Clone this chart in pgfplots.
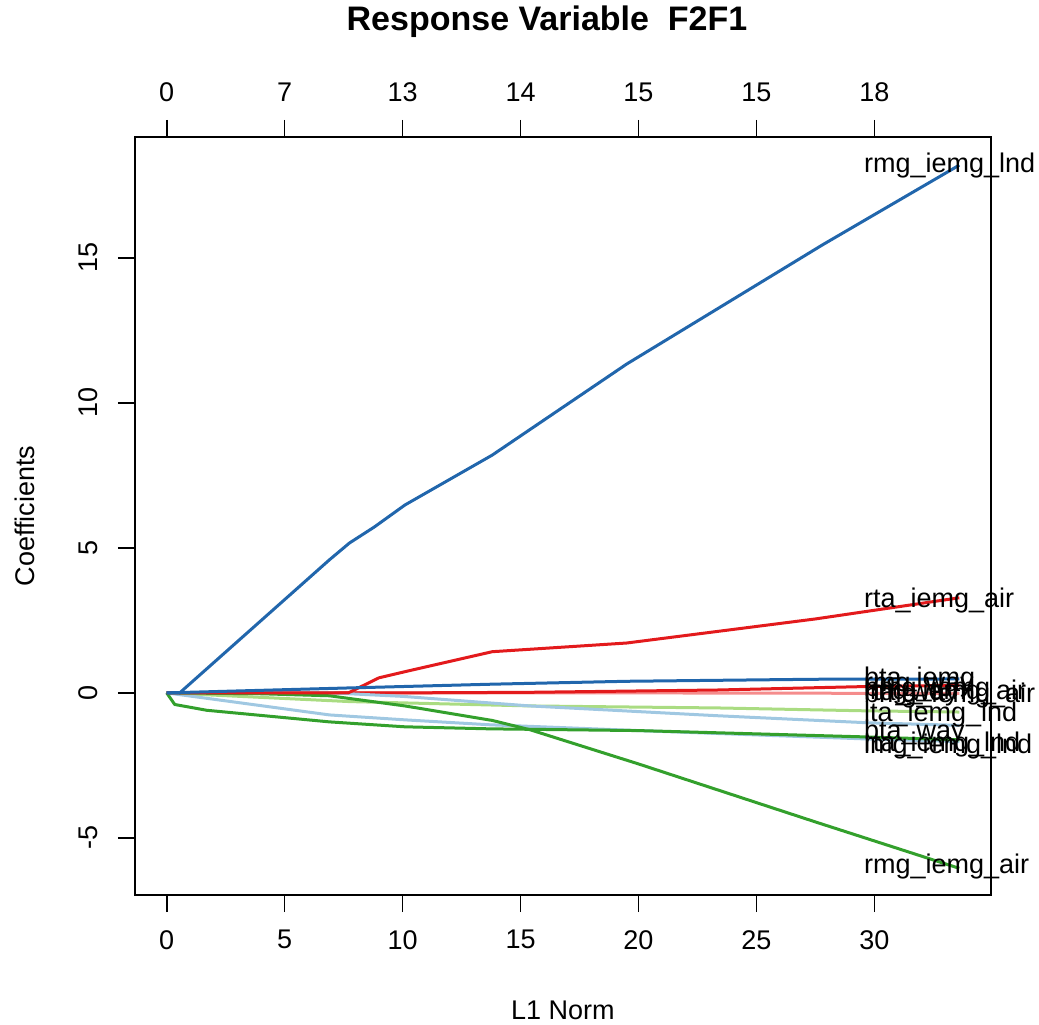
\documentclass[border=0pt]{standalone}
\usepackage{pgfplots}
\pgfplotsset{compat=1.18}
\usepackage{fontspec}
\setmainfont{Liberation Sans}
\definecolor{cblue}{RGB}{33,102,172}
\definecolor{clblue}{RGB}{160,200,226}
\definecolor{cgreen}{RGB}{51,160,44}
\definecolor{clgreen}{RGB}{170,220,130}
\definecolor{cred}{RGB}{227,26,28}
\definecolor{cpink}{RGB}{245,140,140}
\begin{document}
\fontsize{13.5bp}{16bp}\selectfont
\begin{tikzpicture}
\begin{axis}[name=ax, scale only axis, width=428bp, height=379bp,
  xmin=-1.344, xmax=34.944, ymin=-6.97, ymax=19.17, clip=false,
  axis line style={line width=0.8bp, black},
  every tick/.style={line width=0.8bp, black},
  major tick length=8.5bp, tick align=outside,
  xtick pos=left, ytick pos=left,
  xtick={0,5,10,15,20,25,30}, ytick={-5,0,5,10,15},
  /pgf/number format/assume math mode=true,
  ticklabel style={font=\fontsize{13.5bp}{16bp}\selectfont},
  yticklabel style={rotate=90, anchor=south, inner sep=0pt, yshift=10bp},
  xticklabel style={anchor=north, inner sep=0pt, yshift=-9bp},
  every axis plot/.append style={line width=1.5bp, line join=round}]
% pink
\addplot[cpink] coordinates {(0,0) (19,0) (33.6,-0.02)};
% red small
\addplot[cred] coordinates {(0,0) (10,0) (15.4,0.02) (23.4,0.1) (29.7,0.22) (33.6,0.26)};
% light green
\addplot[clgreen] coordinates {(0,0) (7.75,-0.3) (15.4,-0.45) (23.4,-0.52) (29.7,-0.62) (33.6,-0.66)};
% light blue 1
\addplot[clblue] coordinates {(0,0) (7,0) (10,-0.12) (15.4,-0.45) (23.4,-0.79) (29.7,-1.03) (33.6,-1.12)};
% light blue 2
\addplot[clblue] coordinates {(0,0) (6.9,-0.76) (10.1,-0.93) (13.7,-1.1) (20,-1.3) (29.7,-1.59) (33.6,-1.68)};
% green flat
\addplot[cgreen] coordinates {(0,0) (0.34,-0.4) (1.7,-0.6) (6.9,-1.0) (10.1,-1.17) (13.7,-1.24) (20,-1.3) (29.7,-1.52) (33.6,-1.62)};
% green big
\addplot[cgreen] coordinates {(0,0) (4,-0.03) (6.9,-0.1) (10.1,-0.45) (13.8,-0.95) (15.4,-1.27) (20,-2.45) (27.5,-4.45) (33.6,-6.05)};
% red big
\addplot[cred] coordinates {(0,0) (7.7,0) (9.0,0.52) (10.2,0.75) (13.8,1.42) (19.5,1.72) (27.5,2.55) (33.6,3.28)};
% blue small
\addplot[cblue] coordinates {(0,0) (7.7,0.17) (13.8,0.3) (19.5,0.4) (27.5,0.47) (33.6,0.48)};
% blue big
\addplot[cblue] coordinates {(0,0) (0.55,0) (6.9,4.59) (7.75,5.17) (8.8,5.72) (10.1,6.48) (13.8,8.2) (19.5,11.34) (27.8,15.45) (33.6,18.2)};
% labels
\begin{scope}[every node/.style={anchor=west, inner sep=0pt, font=\fontsize{13.5bp}{16bp}\selectfont}]
\node at (axis cs:29.55,18.17) {rmg\_iemg\_lnd};
\node at (axis cs:29.55,3.2) {rta\_iemg\_air};
\node at (axis cs:29.55,0.45) {bta\_iemg};
\node at (axis cs:29.55,0.2) {rmg\_way};
\node at (axis cs:29.55,0.1) {bmg\_iemg};
\node at (axis cs:29.55,0.0) {lmg\_iemg\_air};
\node at (axis cs:29.55,-0.05) {rta\_way};
\node at (axis cs:29.55,-0.1) {bmg\_iemg\_air};
\node at (axis cs:29.55,-0.75) {lta\_iemg\_lnd};
\node at (axis cs:29.55,-1.35) {bta\_way};
\node at (axis cs:29.55,-1.78) {rta\_iemg\_lnd};
\node at (axis cs:29.55,-1.85) {lmg\_iemg\_lnd};
\node at (axis cs:29.55,-6.0) {rmg\_iemg\_air};
\end{scope}
\node at ([yshift=-57.5bp]rel axis cs:0.5,0) {L1 Norm};
\node[rotate=90] at ([xshift=-55bp]rel axis cs:0,0.5) {Coefficients};
\node[font=\bfseries\fontsize{17bp}{20bp}\selectfont] at ([xshift=-8bp,yshift=57.5bp]rel axis cs:0.5,1) {Response Variable\ \ F2F1};
\end{axis}
\begin{axis}[scale only axis, width=428bp, height=379bp,
  xmin=-1.344, xmax=34.944, ymin=-6.97, ymax=19.17,
  axis x line*=top, axis y line=none,
  axis line style={draw=none},
  every tick/.style={line width=0.8bp, black},
  major tick length=8.5bp, tick align=outside,
  xtick={0,5,10,15,20,25,30}, xticklabels={0,7,13,14,15,15,18},
  ticklabel style={font=\fontsize{13.5bp}{16bp}\selectfont},
  xticklabel style={anchor=south, inner sep=0pt, yshift=9bp}]
\addplot[draw=none] coordinates {(0,0)};
\end{axis}
\pgfresetboundingbox
\path ([shift={(-67.5bp,-65bp)}]ax.south west) rectangle ([shift={(24bp,68.5bp)}]ax.north east);
\end{tikzpicture}
\end{document}
